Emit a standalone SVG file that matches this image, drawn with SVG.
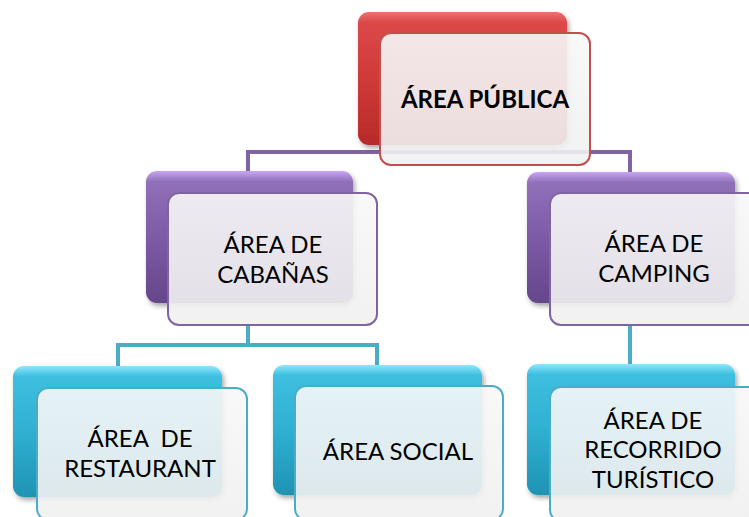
<svg xmlns="http://www.w3.org/2000/svg" width="749" height="517" viewBox="0 0 749 517">
<defs>
<linearGradient id="gRed" x1="0" y1="0" x2="0" y2="1">
<stop offset="0" stop-color="#ee7070"/><stop offset="0.08" stop-color="#dc4848"/><stop offset="0.5" stop-color="#cf3a38"/><stop offset="1" stop-color="#b82a28"/>
</linearGradient>
<linearGradient id="gPur" x1="0" y1="0" x2="0" y2="1">
<stop offset="0" stop-color="#c7a6f2"/><stop offset="0.08" stop-color="#9070b8"/><stop offset="0.5" stop-color="#7d5ba6"/><stop offset="1" stop-color="#65468a"/>
</linearGradient>
<linearGradient id="gTeal" x1="0" y1="0" x2="0" y2="1">
<stop offset="0" stop-color="#8fe6fb"/><stop offset="0.08" stop-color="#3dbfe0"/><stop offset="0.5" stop-color="#2fb0d2"/><stop offset="1" stop-color="#1f93b4"/>
</linearGradient>
<linearGradient id="gFront" x1="0" y1="0" x2="0" y2="1">
<stop offset="0" stop-color="#f8f8f8"/><stop offset="1" stop-color="#f0f0f0"/>
</linearGradient>
<filter id="sh" x="-10%" y="-10%" width="125%" height="130%">
<feDropShadow dx="2" dy="3" stdDeviation="2.5" flood-color="#000" flood-opacity="0.35"/>
</filter>
</defs>
<style>
.front{fill:url(#gFront);fill-opacity:0.9;stroke-width:2}
.red{stroke:#c0504d}
.pur{stroke:#8064a2}
.teal{stroke:#4bacc6}
.back{filter:url(#sh)}
text{font-family:Lato,"Open Sans",sans-serif;font-size:24px;fill:#000;text-anchor:middle}
.conn{fill:none;stroke-width:4}
</style>
<g id="connectors">
<path class="conn pur" d="M248,172 V152 H630 V172"/>
<path class="conn teal" d="M118,366 V345 H377 V366 M248,325 V345"/>
<path class="conn teal" d="M630,325 V364"/>
</g>
<g id="node-publica">
<rect class="back" x="358" y="12" width="209" height="133" rx="11" fill="url(#gRed)"/>
<rect class="front red" x="380" y="33" width="210" height="132" rx="11"/>
<text x="485" y="108" font-weight="bold">ÁREA PÚBLICA</text>
</g>
<g id="node-cabanas">
<rect class="back" x="146" y="171" width="207" height="132" rx="11" fill="url(#gPur)"/>
<rect class="front pur" x="168" y="193" width="209" height="132" rx="11"/>
<text x="273" y="253">ÁREA DE</text>
<text x="273" y="283">CABAÑAS</text>
</g>
<g id="node-camping">
<rect class="back" x="527" y="172" width="208" height="131" rx="11" fill="url(#gPur)"/>
<rect class="front pur" x="550" y="193" width="210" height="132" rx="11"/>
<text x="654" y="252">ÁREA DE</text>
<text x="654" y="282">CAMPING</text>
</g>
<g id="node-restaurant">
<rect class="back" x="13" y="366" width="209" height="131" rx="11" fill="url(#gTeal)"/>
<rect class="front teal" x="37" y="388" width="210" height="132" rx="11"/>
<text x="140" y="447" xml:space="preserve">ÁREA  DE</text>
<text x="140" y="477">RESTAURANT</text>
</g>
<g id="node-social">
<rect class="back" x="273" y="365" width="209" height="130" rx="11" fill="url(#gTeal)"/>
<rect class="front teal" x="295" y="386" width="208" height="134" rx="11"/>
<text x="398" y="460">ÁREA SOCIAL</text>
</g>
<g id="node-recorrido">
<rect class="back" x="527" y="364" width="208" height="131" rx="11" fill="url(#gTeal)"/>
<rect class="front teal" x="550" y="387" width="210" height="134" rx="11"/>
<text x="653" y="429">ÁREA DE</text>
<text x="653" y="458">RECORRIDO</text>
<text x="653" y="488">TURÍSTICO</text>
</g>
</svg>
